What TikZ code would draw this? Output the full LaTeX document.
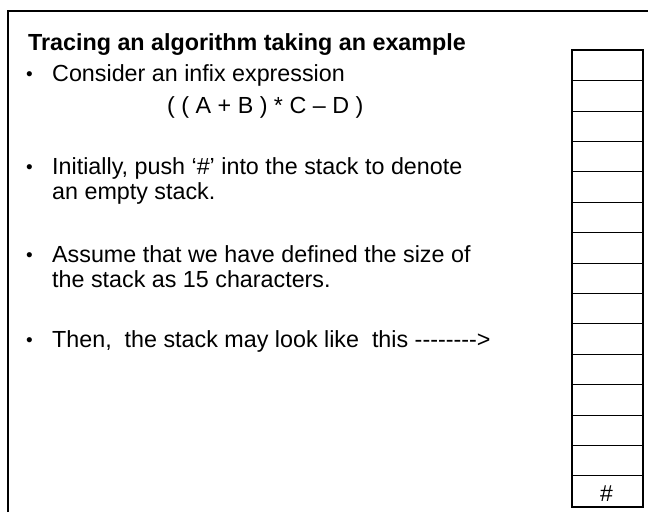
\documentclass[tikz,border=0pt]{standalone}
\usepackage{fontspec}
\setmainfont{Liberation Sans}
\begin{document}
\begin{tikzpicture}[x=1pt,y=-1pt,
  body/.style={anchor=base west,inner sep=0pt,font=\fontsize{23.3}{25}\selectfont},
  heading/.style={anchor=base west,inner sep=0pt,font=\fontsize{23.3}{25}\selectfont\bfseries},
  bulletdot/.style={anchor=base,inner sep=0pt,font=\fontsize{19}{19}\selectfont},
  frameline/.style={line width=2.3pt},
  cell/.style={draw,line width=1pt,minimum width=70pt,minimum height=30.4pt,inner sep=0pt},
  marker/.style={inner sep=0pt,font=\fontsize{23}{23}\selectfont},
  stackborder/.style={line width=2pt}]
  \useasboundingbox (0,0) rectangle (648,512);
  \fill[white] (0,0) rectangle (648,512);

  % slide frame (top and left edges)
  \draw[frameline] (8,512) -- (8,11) -- (648,11);

  % heading and bullet text
  \node[heading] (title) at (28,50) {Tracing an algorithm taking an example};

  \node[bulletdot] (b1) at (29.5,80) {•};
  \node[body] (t1) at (52,81) {Consider an infix expression};
  \node[body] (expr) at (167,113) {( ( A + B ) * C – D )};

  \node[bulletdot] (b2) at (29.5,173) {•};
  \node[body] (t2a) at (52,174) {Initially, push ‘\#’ into the stack to denote};
  \node[body] (t2b) at (52,199) {an empty stack.};

  \node[bulletdot] (b3) at (29.5,261) {•};
  \node[body] (t3a) at (52,262) {Assume that we have defined the size of};
  \node[body] (t3b) at (52,287) {the stack as 15 characters.};

  \node[bulletdot] (b4) at (29.5,346) {•};
  \node[body] (t4) at (52,347) {Then,\ \ the stack may look like\ \ this -{}-{}-{}-{}-{}-{}-{}-{}>};

  % the stack: 15 cells, bottom one holds the marker
  \foreach \i in {1,...,15} {
    \node[cell] (c\i) at (607,{50.3+30.4*(\i-0.5)}) {};
  }
  \node[marker] (hash) at ([xshift=-0.5pt,yshift=-3pt]c15.center) {\#};
  \draw[stackborder] (c1.north west) rectangle (c15.south east);
\end{tikzpicture}
\end{document}
